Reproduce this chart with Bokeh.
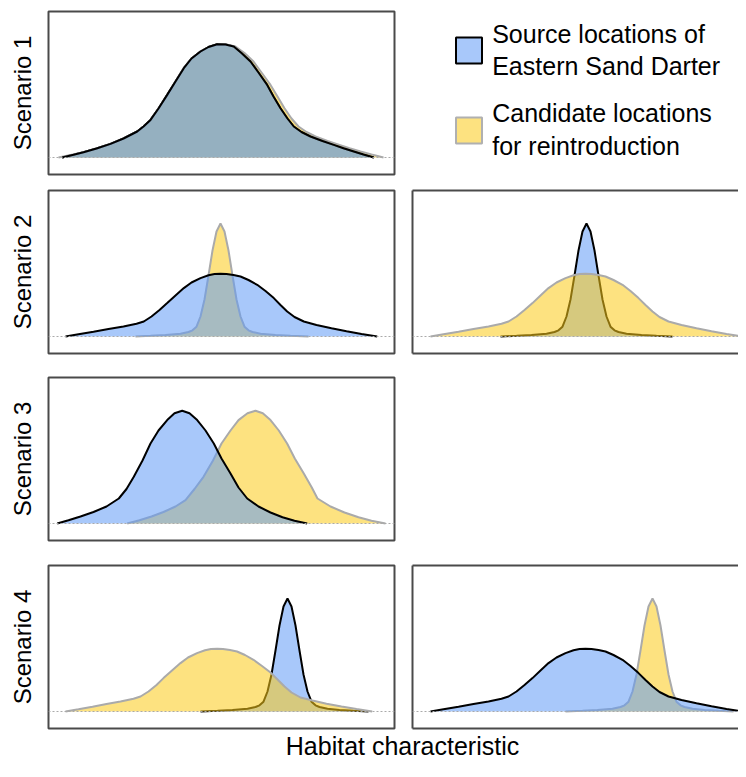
from bokeh.plotting import figure
from bokeh.layouts import column, row
from bokeh.models import Range1d, Span, LinearAxis, FixedTicker, Spacer
from bokeh.embed import file_html
from bokeh.resources import INLINE
from bokeh.core.properties import value

# ---------------- data (x: habitat characteristic, y: relative density) -------------
# Scenario 1
s1_cand_x = [10, 22, 35, 48, 62, 75, 89, 95, 102, 110, 119, 127, 135, 143, 152, 160, 170, 178,
             187, 196, 205, 213, 222, 229, 236, 243, 250, 258, 267, 279, 291, 301, 312, 323, 335]
s1_cand_y = [0, 2.6, 5.3, 9, 13.6, 19, 26, 31, 37.6, 49, 62.6, 76, 89.3, 99, 106, 110.5, 113.3, 113,
             111, 104.5, 96, 85, 72.6, 61, 49.3, 39, 31, 25.5, 21, 16.5, 12.6, 9.2, 6, 3, 0]
s1_src_x = [13.7, 25, 35, 48, 62, 75, 88.7, 95, 102, 110, 118.7, 127, 135.3, 143, 152, 160, 168.7, 177,
            185.3, 193, 202, 210, 218.7, 225, 232, 239, 245.3, 253, 262, 274, 285.3, 295, 305.3, 315, 325.3]
s1_src_y = [0, 2.8, 5.3, 9, 13.6, 19, 26, 31, 37.6, 49, 62.6, 76, 89.3, 99, 106, 110.5, 113.3, 113,
            111, 104.5, 96, 85, 72.6, 61, 49.3, 39, 31, 25.5, 21, 16.5, 12.6, 9.2, 6, 3, 0]

# Scenario 2 (left: narrow candidate, wide source; right: narrow source, wide candidate)
s2a_src_x = [17, 30, 45, 60, 75, 88, 95.3, 103, 111, 118.7, 127, 135.3, 143, 152, 160, 166, 172, 178,
             185, 192, 200, 208.7, 217, 225.3, 232, 238.7, 246, 255.3, 268, 283, 298, 313, 328.7]
s2a_src_y = [0, 2.3, 4.8, 7.4, 10, 12.8, 15, 20, 26.5, 33.4, 41, 48.4, 54, 58.4, 61.2, 62.4, 62.7, 62.4,
             61.4, 60, 56.5, 51.7, 45.5, 38.4, 31.5, 25, 19.5, 15, 11.5, 8.3, 5.3, 2.6, 0]
s2a_cand_x = [87, 102, 117, 132, 140, 144, 148, 152, 156, 160, 164, 168, 172, 176, 180, 184, 188, 192,
              196, 200, 204, 212, 227, 242, 260]
s2a_cand_y = [0, 0.7, 1.5, 2.8, 4.5, 6.2, 9.8, 20, 37, 61, 86, 105, 113, 105, 86, 61, 37, 20,
              9.8, 6.2, 4.5, 2.8, 1.5, 0.7, 0]
s2b_src_x = [88, 104, 119, 134, 142, 146, 150, 154, 158, 162, 166, 170, 174, 178, 182, 186, 190, 194,
             198, 202, 206, 214, 229, 244, 260]
s2b_src_y = [0, 0.7, 1.5, 2.8, 4.5, 6.2, 9.8, 20, 37, 61, 86, 105, 113, 105, 86, 61, 37, 20,
             9.8, 6.2, 4.5, 2.8, 1.5, 0.7, 0]
s2b_cand_x = [18, 31, 46, 61, 76, 89, 96, 104, 112, 120, 128, 136, 144, 153, 161, 167, 173, 179,
              186, 193, 201, 210, 218, 226, 233, 240, 247, 256, 269, 284, 299, 314, 330]
s2b_cand_y = [0, 2.3, 4.8, 7.4, 10, 12.8, 15, 20, 26.5, 33.4, 41, 48.4, 54, 58.4, 61.2, 62.4, 62.7, 62.4,
              61.4, 60, 56.5, 51.7, 45.5, 38.4, 31.5, 25, 19.5, 15, 11.5, 8.3, 5.3, 2.6, 0]

# Scenario 3
s3_src_x = [8.7, 20, 32, 45, 58, 70.3, 78, 85.3, 94, 102, 110, 118.7, 126, 133.7, 141, 148.7, 157,
            165.3, 173, 182, 190, 198.7, 210, 222, 234, 246, 258.7]
s3_src_y = [0, 3.2, 7, 11.5, 17, 25, 34.5, 46.7, 63, 80, 93, 103.4, 110.2, 112.7, 110.2, 103.4, 93,
            80, 65, 50, 36, 25, 17, 11, 6.2, 2.7, 0]
s3_cand_x = [78.7, 91, 103, 115, 127, 137, 146, 155, 164.5, 173, 182, 190, 199, 207, 214.3, 222,
             230.3, 238.6, 246.3, 255.3, 263.3, 269, 282, 296, 310, 323, 337]
s3_cand_y = [0, 3.2, 7, 11.5, 17, 23.4, 34.5, 46.7, 63, 80, 93, 103.4, 110.2, 112.7, 110.2, 103.4,
             93, 80, 65, 50, 36, 25, 17, 11, 6.2, 2.7, 0]

# Scenario 4 (left: wide candidate, narrow source; right: wide source, narrow candidate)
s4a_cand_x = [17, 30, 44, 58, 72, 85, 92, 100, 108, 115, 123.5, 132, 139.5, 148.5, 156.5, 162.5, 168.7,
              174.5, 181.5, 188.5, 196.5, 205, 213.5, 222, 229, 236, 243, 252, 264, 278, 293, 308, 323.7]
s4a_cand_y = [0, 2.3, 4.8, 7.4, 10, 12.8, 15, 20, 26.5, 33.4, 41, 48.4, 54, 58.4, 61.2, 62.4, 62.7,
              62.4, 61.4, 60, 56.5, 51.7, 45.5, 39, 32, 25, 19, 14, 11, 7.8, 5, 2.4, 0]
s4a_src_x = [152, 169, 184, 199, 207, 211, 215, 219, 223, 227, 231, 235, 239, 243, 247, 251, 255, 259,
             263, 267, 271, 279, 291, 305, 320]
s4a_src_y = [0, 0.7, 1.5, 2.8, 4.5, 6.2, 9.8, 20, 37, 61, 86, 105, 113, 105, 86, 61, 37, 20,
             9.8, 6.2, 4.5, 2.8, 1.5, 0.7, 0]
s4b_src_x = [18, 31, 46, 61, 76, 89, 96, 104, 112, 120, 128, 136, 144, 153, 161, 167, 173, 179,
             186, 193, 201, 210, 218, 226, 233, 240, 247, 256, 269, 284, 299, 314, 330]
s4b_src_y = [0, 2.3, 4.8, 7.4, 10, 12.8, 15, 20, 26.5, 33.4, 41, 48.4, 54, 58.4, 61.2, 62.4, 62.7, 62.4,
             61.4, 60, 56.5, 51.7, 45.5, 38.4, 31.5, 25, 19.5, 15, 11.5, 8.3, 5.3, 2.6, 0]
s4b_cand_x = [153, 170, 185, 200, 208, 212, 216, 220, 224, 228, 232, 236, 240, 244, 248, 252, 256, 260,
              264, 268, 272, 280, 292, 306, 321]
s4b_cand_y = [0, 0.7, 1.5, 2.8, 4.5, 6.2, 9.8, 20, 37, 61, 86, 105, 113, 105, 86, 61, 37, 20,
              9.8, 6.2, 4.5, 2.8, 1.5, 0.7, 0]

scenario_labels = ["Scenario 1", "Scenario 2", "Scenario 3", "Scenario 4"]
legend_lines = ["Source locations of", "Eastern Sand Darter", "Candidate locations", "for reintroduction"]
x_label = "Habitat characteristic"

# ---------------- style ----------------
FONT = "Liberation Sans"
BLUE = "#619bf6"
YELLOW = "#fbca18"
ALPHA = 0.55
SRC_LINE = "black"
CAND_LINE = "#aaaaaa"
FRAME = "#4a4a4a"
FH = 163                      # frame height (px) of every panel
Y_LO, Y_HI = -17, FH - 17     # 1 unit per pixel
TXT_SHIFT = 9.5               # svg text renders this much lower than the requested baseline


def bare_axis(**kw):
    return LinearAxis(ticker=FixedTicker(ticks=[]), major_tick_out=0, major_tick_in=0,
                      minor_tick_out=0, minor_tick_in=0, major_label_standoff=0,
                      major_label_text_font_size="0px", **kw)


def panel(width, height, bl, br, bt, bb, x_end, ylabel=None, boxed=True):
    p = figure(width=width, height=height, x_range=Range1d(0, x_end), y_range=Range1d(Y_LO, Y_HI),
               output_backend="svg", toolbar_location=None, x_axis_type=None, y_axis_type=None,
               min_border_left=bl, min_border_right=br, min_border_top=bt, min_border_bottom=bb)
    if boxed:
        p.outline_line_color = FRAME
        p.outline_line_width = 2
    else:
        p.outline_line_color = None
        for side in ("left", "above", "below"):
            p.add_layout(bare_axis(axis_line_color=FRAME, axis_line_width=2), side)
    if ylabel is not None:
        ax = bare_axis(axis_line_color=None, axis_label=ylabel, axis_label_standoff=13,
                       axis_label_text_font=FONT, axis_label_text_font_size="24px",
                       axis_label_text_font_style="normal", axis_label_text_color="black")
        p.add_layout(ax, "left")
    return p


def area(p, x, y, fill, line):
    p.varea(x=x, y1=0, y2=y, fill_color=fill, fill_alpha=ALPHA)
    p.line(x=x, y=y, line_color=line, line_width=2)


def draw(p, sx, sy, cx, cy, order):
    for who in order:
        if who == "src":
            area(p, sx, sy, BLUE, SRC_LINE)
        else:
            area(p, cx, cy, YELLOW, CAND_LINE)
    p.add_layout(Span(location=0, dimension="width", line_color="#aaaaaa", line_width=1,
                      line_dash="2 2"))


LW, RW = 404, 334          # figure widths (left / right column)
LXE, RXE = 346, 326        # frame widths -> x ranges (1 unit per pixel)

# Row 1
H1 = 182
p1 = panel(LW, H1, 48, 10, 11, 8, LXE, scenario_labels[0])
draw(p1, s1_src_x, s1_src_y, s1_cand_x, s1_cand_y, ["src", "cand", "src"])

# legend panel: same borders as p1, y measured downward from the top of the picture
leg = figure(width=RW, height=H1, x_range=Range1d(0, RW), y_range=Range1d(H1 - 8, 11),
             output_backend="svg", toolbar_location=None, x_axis_type=None, y_axis_type=None,
             min_border_left=0, min_border_right=0, min_border_top=11, min_border_bottom=8,
             outline_line_color=None)
leg.rect(x=[64.5, 64.5], y=[50, 130], width=26, height=26, width_units="screen",
         height_units="screen", fill_color=[BLUE, YELLOW], fill_alpha=ALPHA,
         line_color=[SRC_LINE, "#b0b0b0"], line_width=2)
legend_baselines = [42.7, 75, 122, 155]
leg.text(x=[87.7] * 4, y=[b - TXT_SHIFT for b in legend_baselines], text=legend_lines,
         text_font=value(FONT), text_font_size="25px", text_baseline="alphabetic",
         text_align="left", text_color="black")

# Row 2
H2 = 183
p2a = panel(LW, H2, 48, 10, 8, 12, LXE, scenario_labels[1])
draw(p2a, s2a_src_x, s2a_src_y, s2a_cand_x, s2a_cand_y, ["cand", "src"])
p2b = panel(RW, H2, 8, 0, 8, 12, RXE, None, boxed=False)
draw(p2b, s2b_src_x, s2b_src_y, s2b_cand_x, s2b_cand_y, ["src", "cand"])

# Row 3
H3 = 187
p3 = panel(LW, H3, 48, 10, 12, 12, LXE, scenario_labels[2])
draw(p3, s3_src_x, s3_src_y, s3_cand_x, s3_cand_y, ["cand", "src"])
sp3 = Spacer(width=RW, height=H3)

# Row 4
H4 = 180
p4a = panel(LW, H4, 48, 10, 13, 4, LXE, scenario_labels[3])
draw(p4a, s4a_src_x, s4a_src_y, s4a_cand_x, s4a_cand_y, ["src", "cand"])
p4b = panel(RW, H4, 8, 0, 13, 4, RXE, None, boxed=False)
draw(p4b, s4b_src_x, s4b_src_y, s4b_cand_x, s4b_cand_y, ["cand", "src"])

# x label strip (y measured downward, in picture pixels)
TOP = H1 + H2 + H3 + H4
HL = 761 - TOP
lab = figure(width=LW + RW, height=HL, x_range=Range1d(0, LW + RW), y_range=Range1d(TOP + HL, TOP),
             output_backend="svg", toolbar_location=None, x_axis_type=None, y_axis_type=None,
             min_border=0, outline_line_color=None)
lab.text(x=[402], y=[755 - TXT_SHIFT], text=[x_label], text_font=value(FONT), text_font_size="25px",
         text_baseline="alphabetic", text_align="center", text_color="black")

layout = column(row(p1, leg), row(p2a, p2b), row(p3, sp3), row(p4a, p4b), lab)

open("out.html", "w").write(file_html(layout, INLINE))
